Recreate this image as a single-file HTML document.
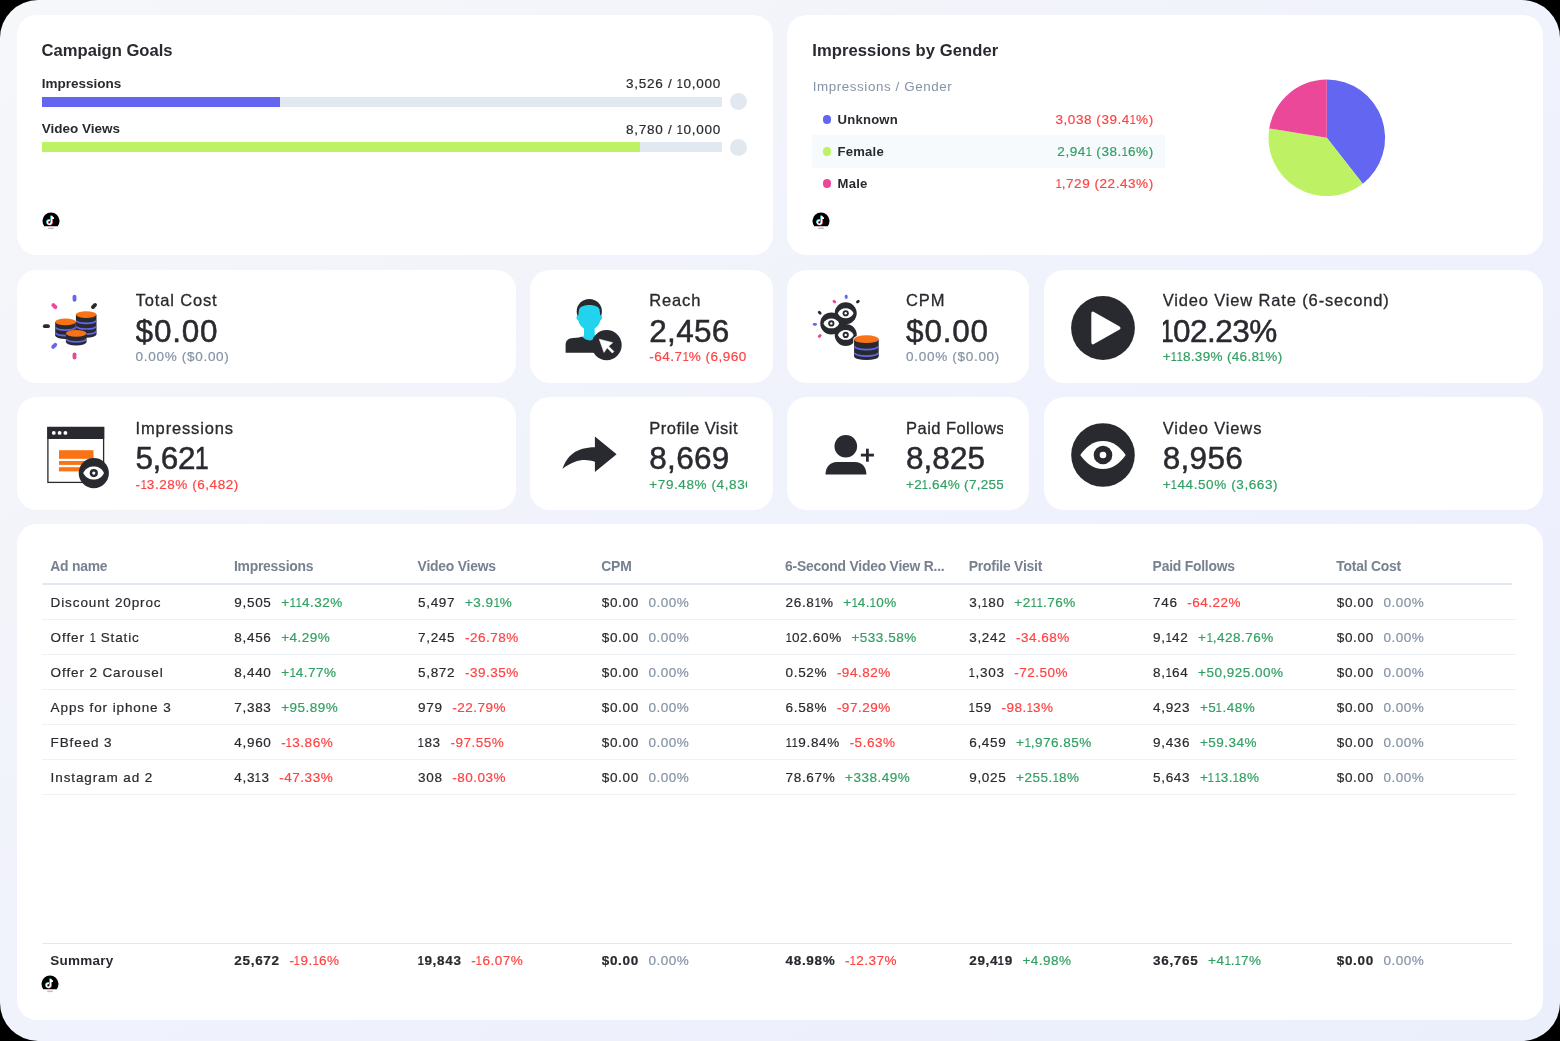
<!DOCTYPE html>
<html><head><meta charset="utf-8">
<style>
html,body{margin:0;padding:0;width:1560px;height:1041px;overflow:hidden;background:#000;-webkit-font-smoothing:antialiased;}
.page{position:absolute;left:0;top:0;width:1560px;height:1041px;border-radius:38px;overflow:hidden;will-change:transform;
background:linear-gradient(to bottom right,#f6f7f9 0%,#f0f2fc 50%,#ebeffc 100%);}
.card{position:absolute;background:#fff;border-radius:20px;}
.ab{position:absolute;}
.t{position:absolute;white-space:nowrap;line-height:1;font-family:"Liberation Sans",sans-serif;}
.t i{font-style:normal;display:inline-block;transform:scaleX(0.8);}
.m{-webkit-text-stroke:0.2px currentColor;}
.m3{-webkit-text-stroke:0.3px currentColor;}
.m5{-webkit-text-stroke:0.5px currentColor;}
</style></head><body><div class="page">
<div class="card" style="left:16.5px;top:14.7px;width:756.50px;height:240.40px"></div>
<div class="card" style="left:787px;top:14.7px;width:756.00px;height:240.40px"></div>
<div class="card" style="left:16.5px;top:269.5px;width:499.00px;height:113.10px"></div>
<div class="card" style="left:530.2px;top:269.5px;width:242.70px;height:113.10px"></div>
<div class="card" style="left:787px;top:269.5px;width:241.80px;height:113.10px"></div>
<div class="card" style="left:1043.6px;top:269.5px;width:499.40px;height:113.10px"></div>
<div class="card" style="left:16.5px;top:397px;width:499.00px;height:113.20px"></div>
<div class="card" style="left:530.2px;top:397px;width:242.70px;height:113.20px"></div>
<div class="card" style="left:787px;top:397px;width:241.80px;height:113.20px"></div>
<div class="card" style="left:1043.6px;top:397px;width:499.40px;height:113.20px"></div>
<div class="card" style="left:16.5px;top:524.4px;width:1526.50px;height:495.30px"></div>
<div class="t " style="left:41.60px;top:43.25px;font-size:16.6px;color:#292a2f;font-weight:700;">Campaign Goals</div>
<div class="t " style="left:41.80px;top:76.57px;font-size:13.5px;color:#292a2f;font-weight:700;">Impressions</div>
<div class="t m" style="right:839.00px;text-align:right;top:77.07px;font-size:13.5px;color:#292a2f;letter-spacing:0.75px;">3,526 / <i style="margin:0 -0.93px">1</i>0,000</div>
<div class="ab" style="left:42px;top:97.2px;width:679.5px;height:9.8px;background:#e2e8f0"></div>
<div class="ab" style="left:42px;top:97.2px;width:238.2px;height:9.8px;background:#6366f1"></div>
<div class="ab" style="left:729.9px;top:93.2px;width:16.8px;height:16.8px;border-radius:50%;background:#e2e8f0"></div>
<div class="t " style="left:41.80px;top:121.97px;font-size:13.5px;color:#292a2f;font-weight:700;">Video Views</div>
<div class="t m" style="right:839.00px;text-align:right;top:122.77px;font-size:13.5px;color:#292a2f;letter-spacing:0.75px;">8,780 / <i style="margin:0 -0.93px">1</i>0,000</div>
<div class="ab" style="left:42px;top:142.4px;width:679.5px;height:10px;background:#e2e8f0"></div>
<div class="ab" style="left:42px;top:142.4px;width:597.6px;height:10px;background:#bef264"></div>
<div class="ab" style="left:729.9px;top:139.2px;width:16.8px;height:16.8px;border-radius:50%;background:#e2e8f0"></div>
<svg class="ab" style="left:41.50px;top:212.20px" width="18" height="20" viewBox="0 0 18 20">
<path d="M2.35 14.3 A8.5 8.5 0 1 1 15.65 14.3 Z" fill="#000"/>
<path d="M9.6 3.9 v6.4 a2.1 2.1 0 1 1 -1.6 -2.05" fill="none" stroke="#25f4ee" stroke-width="1.5" transform="translate(-0.5,-0.3)"/>
<path d="M9.6 3.9 v6.4 a2.1 2.1 0 1 1 -1.6 -2.05" fill="none" stroke="#fe2c55" stroke-width="1.5" transform="translate(0.5,0.3)"/>
<path d="M9.6 3.9 v6.4 a2.1 2.1 0 1 1 -1.6 -2.05 M9.6 3.9 q0.6 2 2.4 2.3" fill="none" stroke="#fff" stroke-width="1.4"/>
<rect x="6.2" y="15.6" width="5.6" height="1.5" fill="#888" opacity="0.55"/>
</svg>
<div class="t " style="left:812.20px;top:43.25px;font-size:16.6px;color:#292a2f;font-weight:700;letter-spacing:0.08px;">Impressions by Gender</div>
<div class="t " style="left:812.70px;top:80.06px;font-size:13.4px;color:#8593a4;letter-spacing:0.58px;">Impressions / Gender</div>
<div class="ab" style="left:812.2px;top:135.4px;width:352.4px;height:32.2px;background:#f7fafc"></div>
<div class="ab" style="left:822.6px;top:115.40px;width:8.4px;height:8.4px;border-radius:50%;background:#6366f1"></div>
<div class="t " style="left:837.60px;top:113.41px;font-size:13.1px;color:#292a2f;font-weight:700;letter-spacing:0.2px;">Unknown</div>
<div class="t m" style="right:406.30px;text-align:right;top:113.07px;font-size:13.5px;color:#ff4343;letter-spacing:0.55px;">3,038 (39.4<i style="margin:0 -0.93px">1</i>%)</div>
<div class="ab" style="left:822.6px;top:147.30px;width:8.4px;height:8.4px;border-radius:50%;background:#bef264"></div>
<div class="t " style="left:837.60px;top:145.31px;font-size:13.1px;color:#292a2f;font-weight:700;letter-spacing:0.2px;">Female</div>
<div class="t m" style="right:406.30px;text-align:right;top:144.97px;font-size:13.5px;color:#32a064;letter-spacing:0.55px;">2,94<i style="margin:0 -0.93px">1</i> (38.<i style="margin:0 -0.93px">1</i>6%)</div>
<div class="ab" style="left:822.6px;top:179.20px;width:8.4px;height:8.4px;border-radius:50%;background:#ec4899"></div>
<div class="t " style="left:837.60px;top:177.21px;font-size:13.1px;color:#292a2f;font-weight:700;letter-spacing:0.2px;">Male</div>
<div class="t m" style="right:406.30px;text-align:right;top:176.87px;font-size:13.5px;color:#ff4343;letter-spacing:0.55px;"><i style="margin:0 -0.93px">1</i>,729 (22.43%)</div>
<svg class="ab" style="left:811.50px;top:212.20px" width="18" height="20" viewBox="0 0 18 20">
<path d="M2.35 14.3 A8.5 8.5 0 1 1 15.65 14.3 Z" fill="#000"/>
<path d="M9.6 3.9 v6.4 a2.1 2.1 0 1 1 -1.6 -2.05" fill="none" stroke="#25f4ee" stroke-width="1.5" transform="translate(-0.5,-0.3)"/>
<path d="M9.6 3.9 v6.4 a2.1 2.1 0 1 1 -1.6 -2.05" fill="none" stroke="#fe2c55" stroke-width="1.5" transform="translate(0.5,0.3)"/>
<path d="M9.6 3.9 v6.4 a2.1 2.1 0 1 1 -1.6 -2.05 M9.6 3.9 q0.6 2 2.4 2.3" fill="none" stroke="#fff" stroke-width="1.4"/>
<rect x="6.2" y="15.6" width="5.6" height="1.5" fill="#888" opacity="0.55"/>
</svg>
<svg class="ab" style="left:0;top:0" width="1560" height="300"><path d="M1326.8 137.8 L1326.80 79.50 A58.3 58.3 0 0 1 1362.79 183.66 Z" fill="#6366f1"/><path d="M1326.8 137.8 L1362.79 183.66 A58.3 58.3 0 0 1 1269.26 128.43 Z" fill="#bef264"/><path d="M1326.8 137.8 L1269.26 128.43 A58.3 58.3 0 0 1 1326.80 79.50 Z" fill="#ec4899"/></svg>
<div class="ab" style="left:135.60px;top:269.50px;width:354.00px;height:113.10px;overflow:hidden">
<div class="t m3" style="left:0;top:22.63px;font-size:16.5px;color:#292a2f;letter-spacing:0.85px">Total Cost</div>
<div class="t m5" style="left:0;top:46.14px;font-size:31.5px;color:#292a2f;letter-spacing:0.8px">$0.00</div>
<div class="t m" style="left:0;top:80.87px;font-size:13.5px;color:#8593a4;letter-spacing:0.7px">0.00% ($0.00)</div>
</div>
<div class="ab" style="left:649.30px;top:269.50px;width:97.70px;height:113.10px;overflow:hidden">
<div class="t m3" style="left:0;top:22.63px;font-size:16.5px;color:#292a2f;letter-spacing:0.85px">Reach</div>
<div class="t m5" style="left:0;top:46.14px;font-size:31.5px;color:#292a2f;letter-spacing:0.3px">2,456</div>
<div class="t m" style="left:0;top:80.87px;font-size:13.5px;color:#ff4343;letter-spacing:0.5px">-64.7<i style="margin:0 -0.93px">1</i>% (6,960)</div>
</div>
<div class="ab" style="left:906.10px;top:269.50px;width:96.80px;height:113.10px;overflow:hidden">
<div class="t m3" style="left:0;top:22.63px;font-size:16.5px;color:#292a2f;letter-spacing:0.85px">CPM</div>
<div class="t m5" style="left:0;top:46.14px;font-size:31.5px;color:#292a2f;letter-spacing:0.8px">$0.00</div>
<div class="t m" style="left:0;top:80.87px;font-size:13.5px;color:#8593a4;letter-spacing:0.7px">0.00% ($0.00)</div>
</div>
<div class="ab" style="left:1162.70px;top:269.50px;width:354.40px;height:113.10px;overflow:hidden">
<div class="t m3" style="left:0;top:22.63px;font-size:16.5px;color:#292a2f;letter-spacing:0.85px">Video View Rate (6-second)</div>
<div class="t m5" style="left:-2.4px;top:46.14px;font-size:31.5px;color:#292a2f;letter-spacing:-0.5px"><i style="margin:0 -2.18px">1</i>02.23%</div>
<div class="t m" style="left:0;top:80.87px;font-size:13.5px;color:#32a064;letter-spacing:0.33px">+<i style="margin:0 -0.93px">1</i><i style="margin:0 -0.93px">1</i>8.39% (46.8<i style="margin:0 -0.93px">1</i>%)</div>
</div>
<div class="ab" style="left:135.60px;top:397.00px;width:354.00px;height:113.20px;overflow:hidden">
<div class="t m3" style="left:0;top:22.63px;font-size:16.5px;color:#292a2f;letter-spacing:0.85px">Impressions</div>
<div class="t m5" style="left:0;top:46.14px;font-size:31.5px;color:#292a2f;letter-spacing:-0.5px">5,62<i style="margin:0 -2.18px">1</i></div>
<div class="t m" style="left:0;top:80.87px;font-size:13.5px;color:#ff4343;letter-spacing:0.55px">-<i style="margin:0 -0.93px">1</i>3.28% (6,482)</div>
</div>
<div class="ab" style="left:649.30px;top:397.00px;width:97.70px;height:113.20px;overflow:hidden">
<div class="t m3" style="left:0;top:22.63px;font-size:16.5px;color:#292a2f;letter-spacing:0.5px">Profile Visit</div>
<div class="t m5" style="left:0;top:46.14px;font-size:31.5px;color:#292a2f;letter-spacing:0.3px">8,669</div>
<div class="t m" style="left:0;top:80.87px;font-size:13.5px;color:#32a064;letter-spacing:0.6px">+79.48% (4,830)</div>
</div>
<div class="ab" style="left:906.10px;top:397.00px;width:96.80px;height:113.20px;overflow:hidden">
<div class="t m3" style="left:0;top:22.63px;font-size:16.5px;color:#292a2f;letter-spacing:0.45px">Paid Follows</div>
<div class="t m5" style="left:0;top:46.14px;font-size:31.5px;color:#292a2f;letter-spacing:0.0px">8,825</div>
<div class="t m" style="left:0;top:80.87px;font-size:13.5px;color:#32a064;letter-spacing:0.3px">+2<i style="margin:0 -0.93px">1</i>.64% (7,255)</div>
</div>
<div class="ab" style="left:1162.70px;top:397.00px;width:354.40px;height:113.20px;overflow:hidden">
<div class="t m3" style="left:0;top:22.63px;font-size:16.5px;color:#292a2f;letter-spacing:0.85px">Video Views</div>
<div class="t m5" style="left:0;top:46.14px;font-size:31.5px;color:#292a2f;letter-spacing:0.3px">8,956</div>
<div class="t m" style="left:0;top:80.87px;font-size:13.5px;color:#32a064;letter-spacing:0.6px">+<i style="margin:0 -0.93px">1</i>44.50% (3,663)</div>
</div>
<div class="t " style="left:50.20px;top:560.13px;font-size:13.9px;color:#77818f;font-weight:700;letter-spacing:-0.22px;">Ad name</div>
<div class="t " style="left:233.90px;top:560.13px;font-size:13.9px;color:#77818f;font-weight:700;letter-spacing:-0.22px;">Impressions</div>
<div class="t " style="left:417.60px;top:560.13px;font-size:13.9px;color:#77818f;font-weight:700;letter-spacing:-0.22px;">Video Views</div>
<div class="t " style="left:601.30px;top:560.13px;font-size:13.9px;color:#77818f;font-weight:700;letter-spacing:-0.22px;">CPM</div>
<div class="t " style="left:785.10px;top:560.13px;font-size:13.9px;color:#77818f;font-weight:700;letter-spacing:-0.22px;">6-Second Video View R...</div>
<div class="t " style="left:968.80px;top:560.13px;font-size:13.9px;color:#77818f;font-weight:700;letter-spacing:-0.22px;">Profile Visit</div>
<div class="t " style="left:1152.60px;top:560.13px;font-size:13.9px;color:#77818f;font-weight:700;letter-spacing:-0.22px;">Paid Follows</div>
<div class="t " style="left:1336.30px;top:560.13px;font-size:13.9px;color:#77818f;font-weight:700;letter-spacing:-0.22px;">Total Cost</div>
<div class="ab" style="left:42px;top:583.2px;width:1470px;height:1.6px;background:#e2e8f0"></div>
<div class="t m" style="left:50.60px;top:595.97px;font-size:13.5px;color:#292a2f;letter-spacing:0.89px;">Discount 20proc</div>
<div class="t m" style="left:234.30px;top:595.97px;font-size:13.5px;color:#292a2f;letter-spacing:0.7px">9,505<span style="color:#32a064;margin-left:9.6px;letter-spacing:0.5px">+<i style="margin:0 -0.93px">1</i><i style="margin:0 -0.93px">1</i>4.32%</span></div>
<div class="t m" style="left:418.00px;top:595.97px;font-size:13.5px;color:#292a2f;letter-spacing:0.7px">5,497<span style="color:#32a064;margin-left:9.6px;letter-spacing:0.5px">+3.9<i style="margin:0 -0.93px">1</i>%</span></div>
<div class="t m" style="left:601.70px;top:595.97px;font-size:13.5px;color:#292a2f;letter-spacing:0.7px">$0.00<span style="color:#8593a4;margin-left:9.6px;letter-spacing:0.5px">0.00%</span></div>
<div class="t m" style="left:785.50px;top:595.97px;font-size:13.5px;color:#292a2f;letter-spacing:0.7px">26.8<i style="margin:0 -0.93px">1</i>%<span style="color:#32a064;margin-left:9.6px;letter-spacing:0.5px">+<i style="margin:0 -0.93px">1</i>4.<i style="margin:0 -0.93px">1</i>0%</span></div>
<div class="t m" style="left:969.20px;top:595.97px;font-size:13.5px;color:#292a2f;letter-spacing:0.7px">3,<i style="margin:0 -0.93px">1</i>80<span style="color:#32a064;margin-left:9.6px;letter-spacing:0.5px">+2<i style="margin:0 -0.93px">1</i><i style="margin:0 -0.93px">1</i>.76%</span></div>
<div class="t m" style="left:1153.00px;top:595.97px;font-size:13.5px;color:#292a2f;letter-spacing:0.7px">746<span style="color:#ff4343;margin-left:9.6px;letter-spacing:0.5px">-64.22%</span></div>
<div class="t m" style="left:1336.70px;top:595.97px;font-size:13.5px;color:#292a2f;letter-spacing:0.7px">$0.00<span style="color:#8593a4;margin-left:9.6px;letter-spacing:0.5px">0.00%</span></div>
<div class="ab" style="left:42px;top:619.10px;width:1474px;height:1px;background:#eef1f6"></div>
<div class="t m" style="left:50.60px;top:630.97px;font-size:13.5px;color:#292a2f;letter-spacing:0.89px;">Offer <i style="margin:0 -0.93px">1</i> Static</div>
<div class="t m" style="left:234.30px;top:630.97px;font-size:13.5px;color:#292a2f;letter-spacing:0.7px">8,456<span style="color:#32a064;margin-left:9.6px;letter-spacing:0.5px">+4.29%</span></div>
<div class="t m" style="left:418.00px;top:630.97px;font-size:13.5px;color:#292a2f;letter-spacing:0.7px">7,245<span style="color:#ff4343;margin-left:9.6px;letter-spacing:0.5px">-26.78%</span></div>
<div class="t m" style="left:601.70px;top:630.97px;font-size:13.5px;color:#292a2f;letter-spacing:0.7px">$0.00<span style="color:#8593a4;margin-left:9.6px;letter-spacing:0.5px">0.00%</span></div>
<div class="t m" style="left:785.50px;top:630.97px;font-size:13.5px;color:#292a2f;letter-spacing:0.7px"><i style="margin:0 -0.93px">1</i>02.60%<span style="color:#32a064;margin-left:9.6px;letter-spacing:0.5px">+533.58%</span></div>
<div class="t m" style="left:969.20px;top:630.97px;font-size:13.5px;color:#292a2f;letter-spacing:0.7px">3,242<span style="color:#ff4343;margin-left:9.6px;letter-spacing:0.5px">-34.68%</span></div>
<div class="t m" style="left:1153.00px;top:630.97px;font-size:13.5px;color:#292a2f;letter-spacing:0.7px">9,<i style="margin:0 -0.93px">1</i>42<span style="color:#32a064;margin-left:9.6px;letter-spacing:0.5px">+<i style="margin:0 -0.93px">1</i>,428.76%</span></div>
<div class="t m" style="left:1336.70px;top:630.97px;font-size:13.5px;color:#292a2f;letter-spacing:0.7px">$0.00<span style="color:#8593a4;margin-left:9.6px;letter-spacing:0.5px">0.00%</span></div>
<div class="ab" style="left:42px;top:654.10px;width:1474px;height:1px;background:#eef1f6"></div>
<div class="t m" style="left:50.60px;top:665.97px;font-size:13.5px;color:#292a2f;letter-spacing:0.89px;">Offer 2 Carousel</div>
<div class="t m" style="left:234.30px;top:665.97px;font-size:13.5px;color:#292a2f;letter-spacing:0.7px">8,440<span style="color:#32a064;margin-left:9.6px;letter-spacing:0.5px">+<i style="margin:0 -0.93px">1</i>4.77%</span></div>
<div class="t m" style="left:418.00px;top:665.97px;font-size:13.5px;color:#292a2f;letter-spacing:0.7px">5,872<span style="color:#ff4343;margin-left:9.6px;letter-spacing:0.5px">-39.35%</span></div>
<div class="t m" style="left:601.70px;top:665.97px;font-size:13.5px;color:#292a2f;letter-spacing:0.7px">$0.00<span style="color:#8593a4;margin-left:9.6px;letter-spacing:0.5px">0.00%</span></div>
<div class="t m" style="left:785.50px;top:665.97px;font-size:13.5px;color:#292a2f;letter-spacing:0.7px">0.52%<span style="color:#ff4343;margin-left:9.6px;letter-spacing:0.5px">-94.82%</span></div>
<div class="t m" style="left:969.20px;top:665.97px;font-size:13.5px;color:#292a2f;letter-spacing:0.7px"><i style="margin:0 -0.93px">1</i>,303<span style="color:#ff4343;margin-left:9.6px;letter-spacing:0.5px">-72.50%</span></div>
<div class="t m" style="left:1153.00px;top:665.97px;font-size:13.5px;color:#292a2f;letter-spacing:0.7px">8,<i style="margin:0 -0.93px">1</i>64<span style="color:#32a064;margin-left:9.6px;letter-spacing:0.5px">+50,925.00%</span></div>
<div class="t m" style="left:1336.70px;top:665.97px;font-size:13.5px;color:#292a2f;letter-spacing:0.7px">$0.00<span style="color:#8593a4;margin-left:9.6px;letter-spacing:0.5px">0.00%</span></div>
<div class="ab" style="left:42px;top:689.10px;width:1474px;height:1px;background:#eef1f6"></div>
<div class="t m" style="left:50.60px;top:700.97px;font-size:13.5px;color:#292a2f;letter-spacing:0.89px;">Apps for iphone 3</div>
<div class="t m" style="left:234.30px;top:700.97px;font-size:13.5px;color:#292a2f;letter-spacing:0.7px">7,383<span style="color:#32a064;margin-left:9.6px;letter-spacing:0.5px">+95.89%</span></div>
<div class="t m" style="left:418.00px;top:700.97px;font-size:13.5px;color:#292a2f;letter-spacing:0.7px">979<span style="color:#ff4343;margin-left:9.6px;letter-spacing:0.5px">-22.79%</span></div>
<div class="t m" style="left:601.70px;top:700.97px;font-size:13.5px;color:#292a2f;letter-spacing:0.7px">$0.00<span style="color:#8593a4;margin-left:9.6px;letter-spacing:0.5px">0.00%</span></div>
<div class="t m" style="left:785.50px;top:700.97px;font-size:13.5px;color:#292a2f;letter-spacing:0.7px">6.58%<span style="color:#ff4343;margin-left:9.6px;letter-spacing:0.5px">-97.29%</span></div>
<div class="t m" style="left:969.20px;top:700.97px;font-size:13.5px;color:#292a2f;letter-spacing:0.7px"><i style="margin:0 -0.93px">1</i>59<span style="color:#ff4343;margin-left:9.6px;letter-spacing:0.5px">-98.<i style="margin:0 -0.93px">1</i>3%</span></div>
<div class="t m" style="left:1153.00px;top:700.97px;font-size:13.5px;color:#292a2f;letter-spacing:0.7px">4,923<span style="color:#32a064;margin-left:9.6px;letter-spacing:0.5px">+5<i style="margin:0 -0.93px">1</i>.48%</span></div>
<div class="t m" style="left:1336.70px;top:700.97px;font-size:13.5px;color:#292a2f;letter-spacing:0.7px">$0.00<span style="color:#8593a4;margin-left:9.6px;letter-spacing:0.5px">0.00%</span></div>
<div class="ab" style="left:42px;top:724.10px;width:1474px;height:1px;background:#eef1f6"></div>
<div class="t m" style="left:50.60px;top:735.97px;font-size:13.5px;color:#292a2f;letter-spacing:0.89px;">FBfeed 3</div>
<div class="t m" style="left:234.30px;top:735.97px;font-size:13.5px;color:#292a2f;letter-spacing:0.7px">4,960<span style="color:#ff4343;margin-left:9.6px;letter-spacing:0.5px">-<i style="margin:0 -0.93px">1</i>3.86%</span></div>
<div class="t m" style="left:418.00px;top:735.97px;font-size:13.5px;color:#292a2f;letter-spacing:0.7px"><i style="margin:0 -0.93px">1</i>83<span style="color:#ff4343;margin-left:9.6px;letter-spacing:0.5px">-97.55%</span></div>
<div class="t m" style="left:601.70px;top:735.97px;font-size:13.5px;color:#292a2f;letter-spacing:0.7px">$0.00<span style="color:#8593a4;margin-left:9.6px;letter-spacing:0.5px">0.00%</span></div>
<div class="t m" style="left:785.50px;top:735.97px;font-size:13.5px;color:#292a2f;letter-spacing:0.7px"><i style="margin:0 -0.93px">1</i><i style="margin:0 -0.93px">1</i>9.84%<span style="color:#ff4343;margin-left:9.6px;letter-spacing:0.5px">-5.63%</span></div>
<div class="t m" style="left:969.20px;top:735.97px;font-size:13.5px;color:#292a2f;letter-spacing:0.7px">6,459<span style="color:#32a064;margin-left:9.6px;letter-spacing:0.5px">+<i style="margin:0 -0.93px">1</i>,976.85%</span></div>
<div class="t m" style="left:1153.00px;top:735.97px;font-size:13.5px;color:#292a2f;letter-spacing:0.7px">9,436<span style="color:#32a064;margin-left:9.6px;letter-spacing:0.5px">+59.34%</span></div>
<div class="t m" style="left:1336.70px;top:735.97px;font-size:13.5px;color:#292a2f;letter-spacing:0.7px">$0.00<span style="color:#8593a4;margin-left:9.6px;letter-spacing:0.5px">0.00%</span></div>
<div class="ab" style="left:42px;top:759.10px;width:1474px;height:1px;background:#eef1f6"></div>
<div class="t m" style="left:50.60px;top:770.97px;font-size:13.5px;color:#292a2f;letter-spacing:0.89px;">Instagram ad 2</div>
<div class="t m" style="left:234.30px;top:770.97px;font-size:13.5px;color:#292a2f;letter-spacing:0.7px">4,3<i style="margin:0 -0.93px">1</i>3<span style="color:#ff4343;margin-left:9.6px;letter-spacing:0.5px">-47.33%</span></div>
<div class="t m" style="left:418.00px;top:770.97px;font-size:13.5px;color:#292a2f;letter-spacing:0.7px">308<span style="color:#ff4343;margin-left:9.6px;letter-spacing:0.5px">-80.03%</span></div>
<div class="t m" style="left:601.70px;top:770.97px;font-size:13.5px;color:#292a2f;letter-spacing:0.7px">$0.00<span style="color:#8593a4;margin-left:9.6px;letter-spacing:0.5px">0.00%</span></div>
<div class="t m" style="left:785.50px;top:770.97px;font-size:13.5px;color:#292a2f;letter-spacing:0.7px">78.67%<span style="color:#32a064;margin-left:9.6px;letter-spacing:0.5px">+338.49%</span></div>
<div class="t m" style="left:969.20px;top:770.97px;font-size:13.5px;color:#292a2f;letter-spacing:0.7px">9,025<span style="color:#32a064;margin-left:9.6px;letter-spacing:0.5px">+255.<i style="margin:0 -0.93px">1</i>8%</span></div>
<div class="t m" style="left:1153.00px;top:770.97px;font-size:13.5px;color:#292a2f;letter-spacing:0.7px">5,643<span style="color:#32a064;margin-left:9.6px;letter-spacing:0.5px">+<i style="margin:0 -0.93px">1</i><i style="margin:0 -0.93px">1</i>3.<i style="margin:0 -0.93px">1</i>8%</span></div>
<div class="t m" style="left:1336.70px;top:770.97px;font-size:13.5px;color:#292a2f;letter-spacing:0.7px">$0.00<span style="color:#8593a4;margin-left:9.6px;letter-spacing:0.5px">0.00%</span></div>
<div class="ab" style="left:42px;top:794.10px;width:1474px;height:1px;background:#eef1f6"></div>
<div class="ab" style="left:42px;top:942.6px;width:1470px;height:1.6px;background:#e2e8f0"></div>
<div class="t " style="left:50.30px;top:954.07px;font-size:13.5px;color:#292a2f;font-weight:700;letter-spacing:0.25px;">Summary</div>
<div class="t m" style="left:234.30px;top:954.07px;font-size:13.5px;color:#292a2f;letter-spacing:0.7px"><b>25,672</b><span style="color:#ff4343;margin-left:9.6px;letter-spacing:0.5px">-<i style="margin:0 -0.93px">1</i>9.<i style="margin:0 -0.93px">1</i>6%</span></div>
<div class="t m" style="left:418.00px;top:954.07px;font-size:13.5px;color:#292a2f;letter-spacing:0.7px"><b><i style="margin:0 -0.93px">1</i>9,843</b><span style="color:#ff4343;margin-left:9.6px;letter-spacing:0.5px">-<i style="margin:0 -0.93px">1</i>6.07%</span></div>
<div class="t m" style="left:601.70px;top:954.07px;font-size:13.5px;color:#292a2f;letter-spacing:0.7px"><b>$0.00</b><span style="color:#8593a4;margin-left:9.6px;letter-spacing:0.5px">0.00%</span></div>
<div class="t m" style="left:785.50px;top:954.07px;font-size:13.5px;color:#292a2f;letter-spacing:0.7px"><b>48.98%</b><span style="color:#ff4343;margin-left:9.6px;letter-spacing:0.5px">-<i style="margin:0 -0.93px">1</i>2.37%</span></div>
<div class="t m" style="left:969.20px;top:954.07px;font-size:13.5px;color:#292a2f;letter-spacing:0.7px"><b>29,4<i style="margin:0 -0.93px">1</i>9</b><span style="color:#32a064;margin-left:9.6px;letter-spacing:0.5px">+4.98%</span></div>
<div class="t m" style="left:1153.00px;top:954.07px;font-size:13.5px;color:#292a2f;letter-spacing:0.7px"><b>36,765</b><span style="color:#32a064;margin-left:9.6px;letter-spacing:0.5px">+4<i style="margin:0 -0.93px">1</i>.<i style="margin:0 -0.93px">1</i>7%</span></div>
<div class="t m" style="left:1336.70px;top:954.07px;font-size:13.5px;color:#292a2f;letter-spacing:0.7px"><b>$0.00</b><span style="color:#8593a4;margin-left:9.6px;letter-spacing:0.5px">0.00%</span></div>
<svg class="ab" style="left:41.40px;top:975.30px" width="18" height="20" viewBox="0 0 18 20">
<path d="M2.35 14.3 A8.5 8.5 0 1 1 15.65 14.3 Z" fill="#000"/>
<path d="M9.6 3.9 v6.4 a2.1 2.1 0 1 1 -1.6 -2.05" fill="none" stroke="#25f4ee" stroke-width="1.5" transform="translate(-0.5,-0.3)"/>
<path d="M9.6 3.9 v6.4 a2.1 2.1 0 1 1 -1.6 -2.05" fill="none" stroke="#fe2c55" stroke-width="1.5" transform="translate(0.5,0.3)"/>
<path d="M9.6 3.9 v6.4 a2.1 2.1 0 1 1 -1.6 -2.05 M9.6 3.9 q0.6 2 2.4 2.3" fill="none" stroke="#fff" stroke-width="1.4"/>
<rect x="6.2" y="15.6" width="5.6" height="1.5" fill="#888" opacity="0.55"/>
</svg>
<svg class="ab" style="left:30px;top:280px" width="90" height="90" viewBox="0 0 90 90"><line x1="44.50" y1="16.60" x2="44.50" y2="19.80" stroke="#6366f1" stroke-width="3.8" stroke-linecap="round"/><line x1="23.34" y1="25.04" x2="25.46" y2="27.16" stroke="#ec4899" stroke-width="3.8" stroke-linecap="round"/><line x1="62.94" y1="27.06" x2="65.06" y2="24.94" stroke="#292a2f" stroke-width="3.8" stroke-linecap="round"/><line x1="14.80" y1="46.20" x2="18.00" y2="46.20" stroke="#292a2f" stroke-width="3.8" stroke-linecap="round"/><line x1="23.14" y1="66.96" x2="25.26" y2="64.84" stroke="#6366f1" stroke-width="3.8" stroke-linecap="round"/><line x1="44.50" y1="74.30" x2="44.50" y2="77.50" stroke="#ec4899" stroke-width="3.8" stroke-linecap="round"/><rect x="25.2" y="41.9" width="20.6" height="13.700000000000003" fill="#292a2f"/><ellipse cx="35.5" cy="55.6" rx="10.3" ry="3.4" fill="#292a2f"/><path d="M25.5 47.6 A10.3 3.4 0 0 0 45.5 47.6" fill="none" stroke="#6366f1" stroke-width="1.7"/><path d="M25.5 53.0 A10.3 3.4 0 0 0 45.5 53.0" fill="none" stroke="#6366f1" stroke-width="1.7"/><ellipse cx="35.5" cy="41.9" rx="10.3" ry="3.4" fill="#f97316"/><rect x="45.900000000000006" y="34.6" width="20.6" height="19.699999999999996" fill="#292a2f"/><ellipse cx="56.2" cy="54.3" rx="10.3" ry="3.4" fill="#292a2f"/><path d="M46.2 40.8 A10.3 3.4 0 0 0 66.2 40.8" fill="none" stroke="#6366f1" stroke-width="1.7"/><path d="M46.2 46.4 A10.3 3.4 0 0 0 66.2 46.4" fill="none" stroke="#6366f1" stroke-width="1.7"/><path d="M46.2 51.6 A10.3 3.4 0 0 0 66.2 51.6" fill="none" stroke="#6366f1" stroke-width="1.7"/><ellipse cx="56.2" cy="34.6" rx="10.3" ry="3.4" fill="#f97316"/><rect x="35.900000000000006" y="53.3" width="20.6" height="8.800000000000004" fill="#292a2f"/><ellipse cx="46.2" cy="62.1" rx="10.3" ry="3.4" fill="#292a2f"/><path d="M36.2 59.2 A10.3 3.4 0 0 0 56.2 59.2" fill="none" stroke="#6366f1" stroke-width="1.7"/><ellipse cx="46.2" cy="53.3" rx="10.3" ry="3.4" fill="#f97316"/></svg>
<svg class="ab" style="left:550px;top:285px" width="90" height="90" viewBox="0 0 90 90"><circle cx="39.3" cy="26.5" r="12.6" fill="#292a2f"/><path d="M29.2 24 C31 21 35 20 39.3 20 C43.6 20 47.6 21 49.4 24 L50.3 30.3 C52.6 30.6 52.8 34.4 50.5 35.2 C49.2 39.6 47 42.2 44.6 43.6 L44.8 50 C45 52.5 47 53.5 47.5 54.5 C44 56.5 41 57 39.5 57 C36 57 33.5 55.5 31.5 53.5 C33.5 52 34 50.5 34 48 L34 43.6 C31.5 42.2 29.4 39.6 28.1 35.2 C25.8 34.4 26 30.6 28.3 30.3 Z" fill="#22d3ee"/><path d="M15.6 67.8 V60 C15.6 55.5 18.5 53.2 23 53 C28 52.8 30.5 52.4 32 51.6 C34.5 54.5 37 55.4 39.5 55.4 C42 55.4 44 54.6 46.5 52.3 L52 56 L48 67.8 Z" fill="#292a2f"/><circle cx="56.6" cy="60.1" r="15.1" fill="#292a2f"/><path d="M49.3 54.2 L62.7 57.7 L58.6 61.2 L63.9 66.5 L62.3 68.1 L57.1 62.8 L54.0 67.4 Z" fill="#fff" stroke="#fff" stroke-width="0.6" stroke-linejoin="round"/></svg>
<svg class="ab" style="left:800px;top:280px" width="90" height="90" viewBox="0 0 90 90"><line x1="46.20" y1="16.25" x2="46.20" y2="17.55" stroke="#6366f1" stroke-width="2.8" stroke-linecap="round"/><line x1="57.44" y1="22.06" x2="58.36" y2="21.14" stroke="#292a2f" stroke-width="2.8" stroke-linecap="round"/><line x1="33.94" y1="21.14" x2="34.86" y2="22.06" stroke="#ec4899" stroke-width="2.8" stroke-linecap="round"/><line x1="19.24" y1="32.24" x2="20.16" y2="33.16" stroke="#292a2f" stroke-width="2.8" stroke-linecap="round"/><line x1="14.25" y1="44.30" x2="15.55" y2="44.30" stroke="#6366f1" stroke-width="2.8" stroke-linecap="round"/><line x1="19.24" y1="56.46" x2="20.16" y2="55.54" stroke="#ec4899" stroke-width="2.8" stroke-linecap="round"/><circle cx="45.7" cy="33.25" r="11" fill="#292a2f"/><circle cx="31.3" cy="43.4" r="11" fill="#292a2f"/><circle cx="45.7" cy="54.9" r="11" fill="#292a2f"/><polygon points="45.7,33.25 31.3,43.4 45.7,54.9" fill="#292a2f"/><path d="M37.800000000000004 33.25 C40.7 26.65 50.7 26.65 53.6 33.25 C50.7 39.85 40.7 39.85 37.800000000000004 33.25 Z" fill="#fff"/><circle cx="45.7" cy="33.25" r="3.1" fill="#292a2f"/><circle cx="45.7" cy="33.25" r="1.2" fill="#fff"/><path d="M23.4 43.4 C26.3 36.8 36.3 36.8 39.2 43.4 C36.3 50.0 26.3 50.0 23.4 43.4 Z" fill="#fff"/><circle cx="31.3" cy="43.4" r="3.1" fill="#292a2f"/><circle cx="31.3" cy="43.4" r="1.2" fill="#fff"/><path d="M37.800000000000004 54.9 C40.7 48.3 50.7 48.3 53.6 54.9 C50.7 61.5 40.7 61.5 37.800000000000004 54.9 Z" fill="#fff"/><circle cx="45.7" cy="54.9" r="3.1" fill="#292a2f"/><circle cx="45.7" cy="54.9" r="1.2" fill="#fff"/><path d="M54.1 59.2 V76.2 A12.3 3.9 0 0 0 78.7 76.2 V59.2 A12.3 3.9 0 0 0 54.1 59.2 Z" fill="none" stroke="#fff" stroke-width="1.6"/><rect x="54.10000000000001" y="59.2" width="24.6" height="17.0" fill="#292a2f"/><ellipse cx="66.4" cy="76.2" rx="12.3" ry="3.9" fill="#292a2f"/><path d="M54.400000000000006 66.6 A12.3 3.9 0 0 0 78.4 66.6" fill="none" stroke="#6366f1" stroke-width="1.7"/><path d="M54.400000000000006 73.0 A12.3 3.9 0 0 0 78.4 73.0" fill="none" stroke="#6366f1" stroke-width="1.7"/><ellipse cx="66.4" cy="59.2" rx="12.3" ry="3.9" fill="#f97316"/></svg>
<svg class="ab" style="left:1067.7px;top:292.6px" width="70" height="70" viewBox="0 0 70 70"><circle cx="35" cy="35" r="31.9" fill="#292a2f"/><path d="M23.3 21 Q23.3 17.4 26.4 19.2 L51.2 33.2 Q53.9 35 51.2 36.8 L26.4 50.8 Q23.3 52.6 23.3 49 Z" fill="#fff"/></svg>
<svg class="ab" style="left:30px;top:410px" width="90" height="90" viewBox="0 0 90 90"><rect x="17.9" y="17.5" width="55.7" height="54.9" fill="#fff" stroke="#292a2f" stroke-width="1.3"/><rect x="17.3" y="16.9" width="56.9" height="12.1" fill="#292a2f"/><circle cx="23.8" cy="22.9" r="1.9" fill="#fff"/><circle cx="29.6" cy="22.9" r="1.9" fill="#fff"/><circle cx="35.4" cy="22.9" r="1.9" fill="#fff"/><rect x="29" y="40.2" width="34.5" height="8.6" fill="#f97316"/><rect x="29" y="51" width="34.5" height="3.9" fill="#f97316"/><rect x="29" y="57.2" width="34.5" height="4.2" fill="#f97316"/><circle cx="63.8" cy="63.1" r="15.1" fill="#292a2f"/><path d="M53.2 63.1 C56.5 57.5 60 56.6 63.8 56.6 C67.6 56.6 71 57.5 74 63.1 C71 68.7 67.6 69.6 63.8 69.6 C60 69.6 56.5 68.7 53.2 63.1 Z" fill="#fff"/><circle cx="63.8" cy="63.1" r="4.1" fill="#292a2f"/><circle cx="63.8" cy="63.1" r="1.6" fill="#fff"/></svg>
<svg class="ab" style="left:550px;top:410px" width="90" height="90" viewBox="0 0 90 90"><path d="M44.9 26.4 L66.6 44.3 L44.9 62.1 V51.7 C36 48.8 26 48.5 12.5 58.8 C17 46 26 37.3 44.9 37.3 Z" fill="#292a2f"/></svg>
<svg class="ab" style="left:800px;top:410px" width="90" height="90" viewBox="0 0 90 90"><circle cx="45.8" cy="36.3" r="11.3" fill="#292a2f"/><path d="M25.5 64.4 C25.5 57 30 51.9 37 51.9 H55 C62 51.9 66.4 57 66.4 64.4 Z" fill="#292a2f"/><rect x="60.9" y="43.7" width="13" height="2.8" fill="#292a2f"/><rect x="66" y="38.7" width="2.8" height="13" fill="#292a2f"/></svg>
<svg class="ab" style="left:1067.8px;top:419.8px" width="70" height="70" viewBox="0 0 70 70"><circle cx="35" cy="35" r="31.8" fill="#292a2f"/><path d="M12.3 35 C18 27 25 21 35 21 C45 21 52 27 57.7 35 C52 43 45 49 35 49 C25 49 18 43 12.3 35 Z" fill="#fff"/><circle cx="35" cy="35" r="9.3" fill="#292a2f"/><circle cx="35" cy="35" r="3.3" fill="#fff"/></svg>
</div></body></html>
